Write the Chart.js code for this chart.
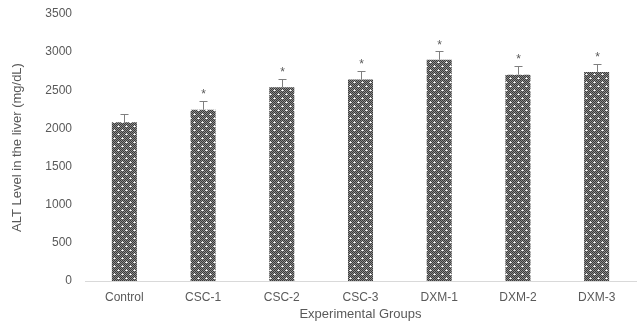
<!DOCTYPE html>
<html>
<head>
<meta charset="utf-8">
<script src="https://cdn.jsdelivr.net/npm/chart.js@4.4.1/dist/chart.umd.min.js"></script>
<style>
  html, body { margin: 0; padding: 0; background: #fff; }
</style>
</head>
<body>
<canvas id="grafico" width="637" height="327"></canvas>
<script>
// dados
var grupos = ["Control", "CSC-1", "CSC-2", "CSC-3", "DXM-1", "DXM-2", "DXM-3"];
var valoresALT = [2080, 2245, 2540, 2640, 2900, 2705, 2740];
var errosALT = [110, 115, 110, 115, 112, 115, 110];
var marcas = ["", "*", "*", "*", "*", "*", "*"];
var ticksY = [0, 500, 1000, 1500, 2000, 2500, 3000, 3500];

var cinzaTexto = "#595959";

// textura pontilhada das barras
function criarTextura() {
	var c = document.createElement("canvas");
	c.width = 8;
	c.height = 8;
	var g = c.getContext("2d");
	for (var y = 0; y < 8; y++) {
		for (var x = 0; x < 8; x++) {
			g.fillStyle = (x + y) % 2 == 0 ? "#3a3a3a" : "#8a8a8a";
			g.fillRect(x, y, 1, 1);
		}
	}
	g.fillStyle = "#ffffff";
	g.fillRect(2, 2, 1, 1);
	g.fillRect(6, 6, 1, 1);
	g.fillStyle = "#d8d8d8";
	g.fillRect(1, 2, 1, 1);
	g.fillRect(3, 2, 1, 1);
	g.fillRect(5, 6, 1, 1);
	g.fillRect(7, 6, 1, 1);
	g.fillRect(2, 1, 1, 1);
	g.fillRect(6, 5, 1, 1);
	return g.createPattern(c, "repeat");
}

var barrasErro = {
	id: "barrasErro",
	afterDatasetsDraw: function (chart) {
		var ctx = chart.ctx;
		var meta = chart.getDatasetMeta(0);
		var escalaY = chart.scales.y;
		ctx.save();
		for (var i = 0; i < meta.data.length; i++) {
			var barra = meta.data[i];
			var x = Math.round(barra.x) + 0.5;
			var topo = escalaY.getPixelForValue(valoresALT[i]);
			var cima = escalaY.getPixelForValue(valoresALT[i] + errosALT[i]);
			ctx.strokeStyle = "#7f7f7f";
			ctx.lineWidth = 1;
			ctx.beginPath();
			ctx.moveTo(x, topo);
			ctx.lineTo(x, Math.round(cima) + 0.5);
			ctx.moveTo(x - 4, Math.round(cima) + 0.5);
			ctx.lineTo(x + 4, Math.round(cima) + 0.5);
			ctx.stroke();
			if (marcas[i]) {
				ctx.fillStyle = "#595959";
				ctx.font = "12px 'Liberation Sans', Arial, sans-serif";
				ctx.textAlign = "center";
				ctx.textBaseline = "middle";
				ctx.fillText(marcas[i], x, cima - 6);
			}
		}
		ctx.restore();
	}
};

new Chart(document.getElementById("grafico"), {
	type: "bar",
	data: {
		labels: grupos,
		datasets: [
			{
				label: "ALT",
				data: valoresALT,
				backgroundColor: criarTextura(),
				borderWidth: 0,
				categoryPercentage: 1,
				barPercentage: 0.318,
			},
		],
	},
	options: {
		responsive: false,
		animation: false,
		devicePixelRatio: 1,
		layout: { autoPadding: false, padding: { left: 0, right: 1, top: 14, bottom: 5 } },
		scales: {
			x: {
				grid: { display: false, drawTicks: false },
				border: { display: true, color: "#d9d9d9", width: 1 },
				ticks: {
					color: cinzaTexto,
					font: { family: "'Liberation Sans', Arial, sans-serif", size: 12 },
					padding: 9,
					maxRotation: 0,
					autoSkip: false,
				},
				title: {
					display: true,
					text: "Experimental Groups",
					color: cinzaTexto,
					font: { family: "'Liberation Sans', Arial, sans-serif", size: 13 },
					padding: { top: 0, bottom: 0 },
				},
				afterFit: function (escala) { escala.height = 41; },
			},
			y: {
				min: 0,
				max: 3500,
				afterBuildTicks: function (escala) {
					escala.ticks = ticksY.map(function (v) { return { value: v }; });
				},
				grid: { display: false, drawTicks: false },
				border: { display: false },
				ticks: {
					color: cinzaTexto,
					font: { family: "'Liberation Sans', Arial, sans-serif", size: 12 },
					padding: 13,
					callback: function (v) { return String(v); },
				},
				title: {
					display: true,
					text: "ALT Level in the liver (mg/dL)",
					color: cinzaTexto,
					font: { family: "'Liberation Sans', Arial, sans-serif", size: 13 },
					padding: { top: 10, bottom: 4 },
				},
				afterFit: function (escala) {
					escala.width = 85;
					escala.paddingTop = 7;
					escala.paddingBottom = 7;
				},
			},
		},
		plugins: {
			legend: { display: false },
			tooltip: { enabled: false },
		},
	},
	plugins: [barrasErro],
});
</script>
</body>
</html>
